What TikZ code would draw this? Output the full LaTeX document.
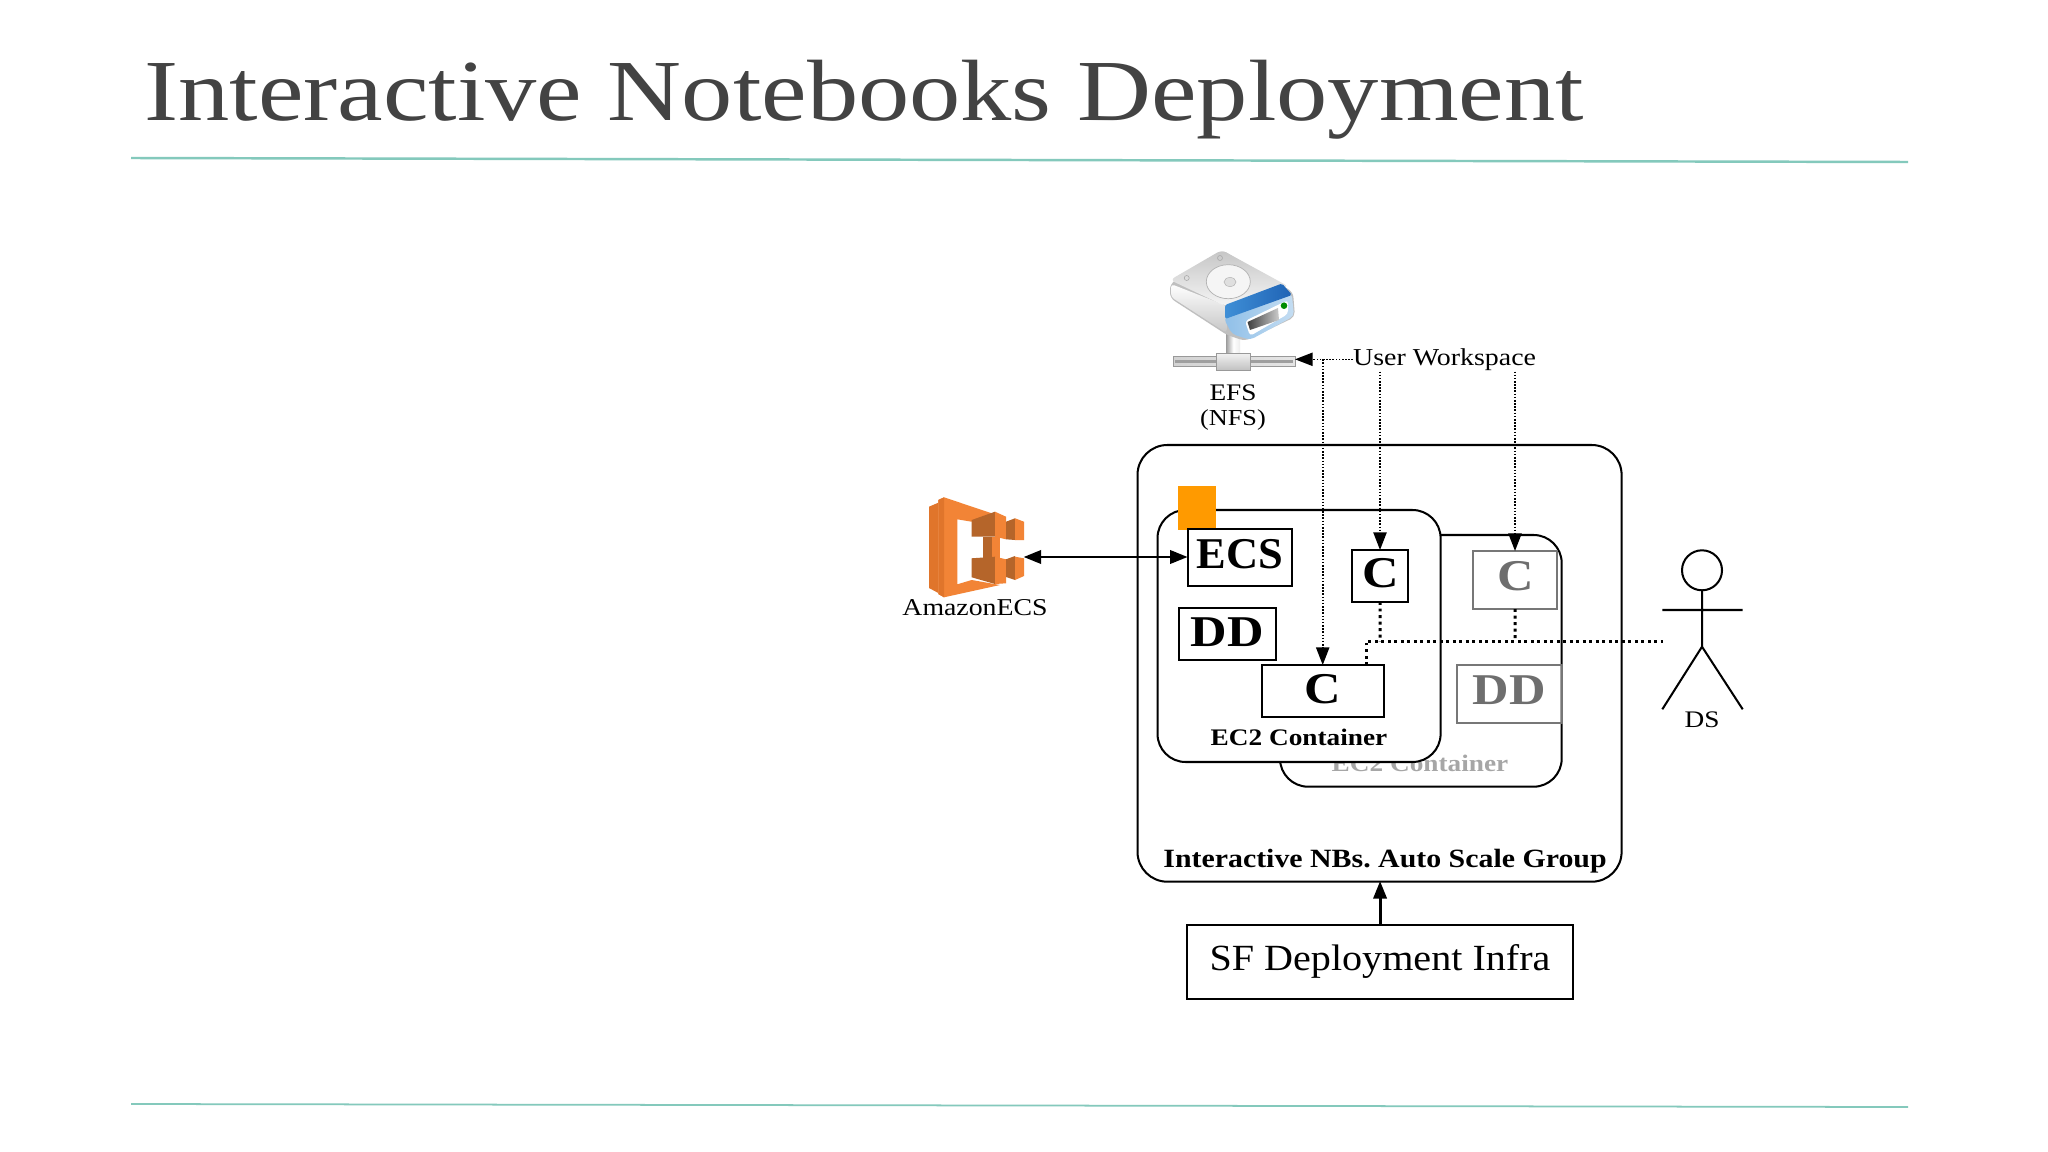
\documentclass[tikz,border=0pt]{standalone}
\usepackage{graphicx}
\usepackage{fontspec}
\setmainfont{Liberation Serif}[FakeStretch=1.15]
\usetikzlibrary{arrows.meta,calc}
\newcommand{\fsz}[1]{\fontsize{#1pt}{#1pt}\selectfont\frenchspacing}
\newcommand{\xs}[2]{\scalebox{#1}[1]{#2}}
\definecolor{teal}{HTML}{84C9BC}
\definecolor{titlegray}{HTML}{434343}
\definecolor{grayline}{HTML}{777777}
\definecolor{graytxt}{HTML}{6E6E6E}
\definecolor{ecsA}{HTML}{F28436}
\definecolor{ecsB}{HTML}{E0752B}
\definecolor{ecsC}{HTML}{B5652A}
\definecolor{sqcol}{HTML}{FF9A00}
\definecolor{bluehi}{HTML}{3F8FD6}
\definecolor{bluelo}{HTML}{1F63B5}
\definecolor{paleL}{HTML}{8FBFE8}
\definecolor{paleR}{HTML}{C4DDF2}
\tikzset{
  box/.style={draw=black,line width=2.3pt,fill=white,inner sep=0pt,outer sep=0pt,anchor=north west},
  graybox/.style={box,draw=grayline},
  round box/.style={draw=black,line width=2.3pt,rounded corners=32,fill=white},
  lbl/.style={inner sep=0pt,anchor=base,text=black},
  rule/.style={draw=teal,line width=2.8pt},
  thin dots/.style={line width=1.8pt,dash pattern=on 1.8pt off 1.8pt},
  fat dots/.style={line width=3.4pt,dash pattern=on 3.4pt off 4pt},
  tip/.style={-{Triangle[length=20pt,width=15pt]}},
  stick/.style={line width=2.3pt,draw=black},
}
\begin{document}
\begin{tikzpicture}[x=0.04cm,y=-0.04cm]
\useasboundingbox[fill=white] (0,0) rectangle (2048,1152);
% title and rules
\node[lbl,anchor=base west,text=titlegray] (title) at (144,120.5) {\fsz{99}\xs{1.024}{Interactive Notebooks Deployment}};
\coordinate (r1a) at (131,158); \coordinate (r1b) at (1908,162);
\coordinate (r2a) at (131,1104); \coordinate (r2b) at (1908,1107);
\draw[rule] (r1a) -- (r1b);
\draw[rule,line width=2pt] (r2a) -- (r2b);
% outer group
\draw[round box,rounded corners=34] (1137.5,445) rectangle (1621.6,881.7);
\node[lbl] (nbs) at (1385,867.5) {\fsz{30}\bfseries\xs{0.985}{Interactive NBs. Auto Scale Group}};
% back container
\draw[round box] (1280,535) rectangle (1561.7,786.7);
\node[lbl,text=black!35] (ec2b) at (1420,771.5) {\fsz{27}\bfseries EC2 Container};
\node[graybox,minimum width=84pt*1.138,minimum height=58pt*1.138,fill=none] (cg) at (1473,551) {};
\node[lbl,text=graytxt] (cgt) at (1516,590) {\fsz{50}\bfseries C};
\node[graybox,minimum width=104.7pt*1.138,minimum height=57.7pt*1.138,fill=none] (dg) at (1457,665) {};
\node[lbl,text=graytxt] (dgt) at (1509,704) {\fsz{50}\bfseries DD};
% front container
\draw[round box] (1157.5,510) rectangle (1440.6,762);
\node[lbl] (ec2f) at (1299,745.5) {\fsz{27}\bfseries EC2 Container};
\node[inner sep=0pt,fill=sqcol,minimum width=38.3pt*1.138,minimum height=44pt*1.138,anchor=north west] (sq) at (1177.7,486) {};
\node[box,minimum width=104.3pt*1.138,minimum height=57pt*1.138] (ecs) at (1187.7,528.7) {};
\node[lbl] (ecst) at (1240,568) {\fsz{50}\bfseries\xs{0.88}{ECS}};
\node[box,minimum width=97pt*1.138,minimum height=52pt*1.138] (dd) at (1179,608) {};
\node[lbl] (ddt) at (1227,646) {\fsz{50}\bfseries DD};
\node[box,minimum width=122.5pt*1.138,minimum height=52pt*1.138] (cl) at (1261.5,665) {};
\node[lbl] (clt) at (1322.7,703) {\fsz{50}\bfseries C};
\node[box,minimum width=56pt*1.138,minimum height=52pt*1.138] (cu) at (1352,550) {};
\node[lbl] (cut) at (1381,587.5) {\fsz{50}\bfseries C};
% SF box
\node[box,minimum width=386.5pt*1.138,minimum height=74pt*1.138] (sf) at (1186.8,925) {};
\node[lbl] (sft) at (1380,970.5) {\fsz{42}\xs{0.945}{SF Deployment Infra}};
\draw[line width=3.4pt,tip] (sf.north) -- (sf.north |- 0,881);
% AmazonECS logo
\fill[ecsB] (929,506.7) -- (938.3,502.7) -- (938.3,593) -- (929,588) -- cycle;
\fill[ecsA] (938.3,500) -- (944,497.3) -- (991.7,513.3) -- (971.7,521.7) -- (957.3,519.3) -- (957.3,584.3) -- (971.7,580) -- (1000,585) -- (944,597.3) -- (938.3,594) -- cycle;
\fill[ecsB] (938.3,500) -- (944,497.3) -- (944,597.3) -- (938.3,594) -- cycle;
\fill[ecsC] (971.7,520) -- (995,511.7) -- (995,536.7) -- (971.7,536.7) -- cycle;
\fill[ecsA] (995,511.7) -- (1006,516.7) -- (1006,539.3) -- (995,536.7) -- cycle;
\fill[ecsC] (1006,521.7) -- (1015,518.3) -- (1015,540) -- (1006,539.3) -- cycle;
\fill[ecsA] (1015,518.3) -- (1024,521.7) -- (1024,540) -- (1015,540) -- cycle;
\fill[ecsC] (983.3,537) rectangle (991.7,559);
\fill[ecsA] (991.7,537) rectangle (1000,559);
\fill[ecsC] (971.7,558.3) -- (995,556.7) -- (995,584) -- (971.7,577.3) -- cycle;
\fill[ecsA] (995,556.7) -- (1006,559.3) -- (1006,583.3) -- (995,584) -- cycle;
\fill[ecsC] (1006,559.3) -- (1015,556) -- (1015,580) -- (1006,577) -- cycle;
\fill[ecsA] (1015,556.7) -- (1024,558.3) -- (1024,576) -- (1015,580) -- cycle;
\coordinate (logoR) at (1023.5,557);
\node[lbl] (amz) at (975,615) {\fsz{27.5}AmazonECS};
\draw[line width=3.4pt,{Triangle[length=20pt,width=15pt]}-{Triangle[length=20pt,width=15pt]}] (logoR) -- (logoR -| ecs.west);
% EFS drive
\shade[left color=gray!35,right color=gray!20,draw=gray!80,line width=0.8pt] (1173,356) rectangle (1295,366.5);
\fill[gray!75] (1175,360) rectangle (1293,362.5);
\shade[left color=gray!70,right color=gray!15,middle color=white] (1226.7,333) rectangle (1240,354);
\shade[top color=gray!10,bottom color=gray!50,draw=gray!80,line width=0.8pt] (1216.7,353) rectangle (1250.7,370.7);
\fill[black!25,rounded corners=6] (1170,284) -- (1170,298) -- (1227,335) -- (1245,341) -- (1295,317) -- (1293,292) -- (1222,250) -- cycle;
\shade[top color=white,bottom color=gray!45,rounded corners=4] (1171,284) -- (1171,297) -- (1226.7,333) -- (1227,306) -- cycle;
\shade[top color=gray!45,bottom color=gray!8,rounded corners=6] (1221.7,250) -- (1170,280) -- (1225,306) -- (1289,286.7) -- cycle;
\draw[gray!60,line width=0.8pt,fill=gray!8] (1228.3,281.7) ellipse (22 and 17);
\draw[gray!60,line width=0.6pt,fill=gray!25] (1230,282) ellipse (6 and 4.5);
\draw[gray!70,line width=0.6pt] (1186.7,278) circle (2.5) (1220,258) circle (2.5);
\shade[left color=paleL,right color=paleR,rounded corners=5] (1223.5,318) -- (1291.7,293) -- (1294,316) -- (1250,340) -- (1232,334) -- cycle;
\shade[left color=bluehi,right color=bluelo,rounded corners=2] (1225,305) -- (1282,283.5) -- (1292,295) -- (1225,319) -- cycle;
\fill[white,rounded corners=4] (1245,321) -- (1288,300) -- (1288,314) -- (1250,336) -- cycle;
\shade[left color=black!75,right color=gray!40] (1247.5,322) -- (1278,308) -- (1279,320) -- (1250,330) -- cycle;
\fill[green!55!black] (1284,305.7) circle (3.3);
\coordinate (drv) at (1295,359.3);
\node[lbl] (efs) at (1233,400.7) {\fsz{27}EFS};
\node[lbl] (nfs) at (1233,425) {\fsz{26}(NFS)};
% user workspace
\node[lbl,anchor=base west] (uw) at (1353,365) {\fsz{27.6}User Workspace};
\coordinate (j0) at (1322.7,359.3);
\draw[thin dots,tip] (1353,359.3) -- (drv);
\draw[thin dots,tip] (j0) -- (j0 |- cl.north);
\coordinate (u1) at (1380,371.5);
\coordinate (u2) at (1515,371.5);
\draw[thin dots,tip] (u1) -- (u1 |- cu.north);
\draw[thin dots,tip] (u2) -- (u2 |- cg.north);
% actor
\draw[stick] (1702,570.3) circle (20);
\coordinate (neck) at (1702,590.3); \coordinate (hip) at (1702,646.7);
\coordinate (aL) at (1662.3,610); \coordinate (aR) at (1742.7,610);
\coordinate (fL) at (1662.3,709.3); \coordinate (fR) at (1742.7,709.3);
\draw[stick] (neck) -- (hip) (aL) -- (aR) (fL) -- (hip) -- (fR);
\node[lbl] (ds) at (1702,727) {\fsz{27}DS};
% shared dotted bus
\coordinate (j1) at (1366,641.3); \coordinate (j2) at (1380,641.3); \coordinate (j3) at (1515,641.3); \coordinate (j4) at (1663,641.3);
\draw[fat dots] (j1 |- cl.north) -- (j1) -- (j4);
\draw[fat dots] (cu.south) -- (j2);
\draw[fat dots] (cg.south) -- (j3);
\end{tikzpicture}
\end{document}
